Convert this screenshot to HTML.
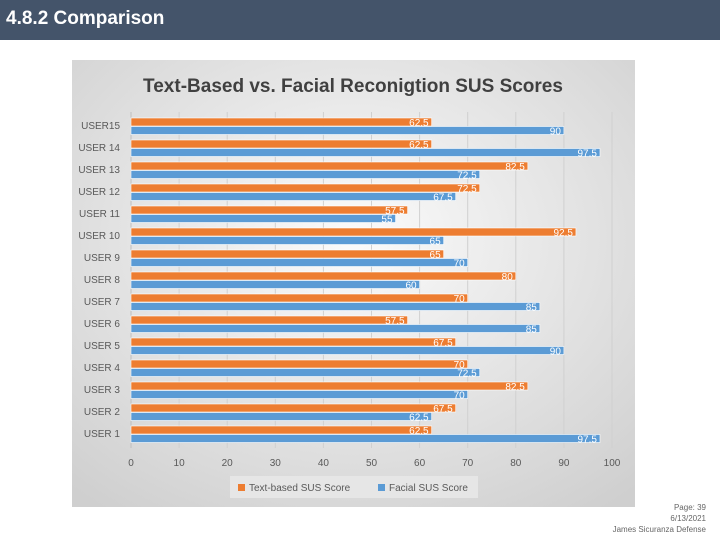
<!DOCTYPE html>
<html><head><meta charset="utf-8">
<style>
body{margin:0;width:720px;height:540px;background:#fff;position:relative;overflow:hidden;font-family:"Liberation Sans",sans-serif}
#hdr{position:absolute;left:0;top:0;width:720px;height:40px;background:#44546a}
#hdr span{position:absolute;left:6px;top:8px;color:#fff;font-weight:bold;font-size:19px}
#foot{position:absolute;right:14px;top:502px;text-align:right;font-size:8px;color:#666;line-height:11px}
</style></head><body>
<div id="hdr"><span>4.8.2 Comparison</span></div>
<svg id="chart" style="position:absolute;left:0;top:0" width="720" height="540">
<defs><radialGradient id="bg" cx="0.5" cy="0.4" r="0.75"><stop offset="0" stop-color="#fbfbfb"/><stop offset="1" stop-color="#cfcfcf"/></radialGradient></defs>
<rect x="72" y="60" width="563" height="447" fill="url(#bg)"/>
<text x="353" y="92" text-anchor="middle" font-size="19" font-weight="bold" fill="#404040">Text-Based vs. Facial Reconigtion SUS Scores</text>
<g id="grid"></g><g id="bars"></g><g id="labels"></g>
<g>
<rect x="230" y="476" width="248" height="22" fill="#e6e6e6"/>
<rect x="238" y="484" width="7" height="7" fill="#ed7d31"/>
<text x="249" y="491" font-size="10" fill="#595959">Text-based SUS Score</text>
<rect x="378" y="484" width="7" height="7" fill="#5b9bd5"/>
<text x="389" y="491" font-size="10" fill="#595959">Facial SUS Score</text>
</g>
</svg>
<div id="foot">Page: 39<br>6/13/2021<br>James Sicuranza Defense</div>
<script>
const categories=["USER15","USER 14","USER 13","USER 12","USER 11","USER 10","USER 9","USER 8","USER 7","USER 6","USER 5","USER 4","USER 3","USER 2","USER 1"];
const textScores=[62.5,62.5,82.5,72.5,57.5,92.5,65,80,70,57.5,67.5,70,82.5,67.5,62.5];
const facialScores=[90,97.5,72.5,67.5,55,65,70,60,85,85,90,72.5,70,62.5,97.5];
const xTicks=[0,10,20,30,40,50,60,70,80,90,100];
const NS="http://www.w3.org/2000/svg";
const x0=131,x1=612,top0=118,band=22,bh=8;
const xs=v=>x0+(x1-x0)*v/100;
const ys=i=>top0+i*band;
function mk(t,a,p){const e=document.createElementNS(NS,t);for(const k in a)e.setAttribute(k,a[k]);p.appendChild(e);return e;}
const grid=document.getElementById('grid'),bars=document.getElementById('bars'),labels=document.getElementById('labels');
xTicks.forEach(t=>{
 const l=mk('line',{x1:xs(t),x2:xs(t),y1:112,y2:448,stroke:t===0?'#bfbfbf':'#d0d0d0','stroke-width':1},grid);
 
 
 const tx=mk('text',{x:xs(t),y:466,'text-anchor':'middle','font-size':10,fill:'#595959'},labels);
 tx.textContent=t;
 
 
});
categories.forEach((c,i)=>{
 const y=ys(i);
 const cl=mk('text',{x:120,y:y+11,'text-anchor':'end','font-size':10,fill:'#595959'},labels);
 cl.textContent=c;
 
 
 [[textScores[i],'#ed7d31',y,'text'],[facialScores[i],'#5b9bd5',y+bh+0.5,'facial']].forEach(([v,col,yy,s])=>{
  const r=mk('rect',{x:x0,y:yy,width:xs(v)-x0,height:bh,fill:col,stroke:'#fff','stroke-width':0.6},bars);
  
  
  const t=mk('text',{x:xs(v)-3,y:yy+8,'text-anchor':'end','font-size':10,fill:'#fff'},labels);
  t.textContent=v;
  
  
 });
});
</script>
</body></html>
